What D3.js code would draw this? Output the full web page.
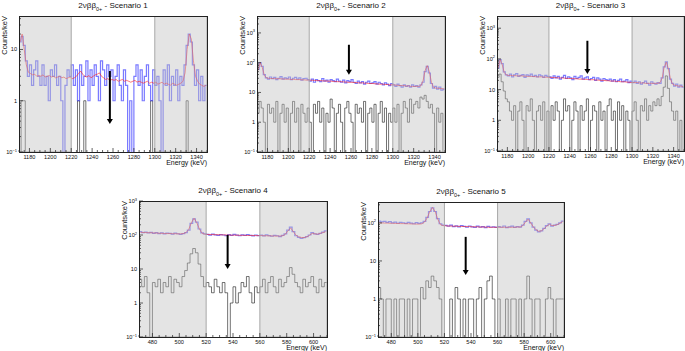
<!DOCTYPE html>
<html>
<head>
<meta charset="utf-8">
<script src="https://cdn.jsdelivr.net/npm/d3@7"></script>
<style>
  body { margin: 0; background: #fff; }
  svg { font-family: "Liberation Sans", Arial, sans-serif; }
</style>
</head>
<body>
<div id="chart"></div>
<script>

//Energy ranges, bin width and sidebands (keV)
var binWidth = 2;
var rangeHigh = [1170, 1350];
var rangeLow = [470, 610];
var sideHigh = [[1170, 1220], [1300, 1350]];
var sideLow = [[470, 520], [560, 610]];

//Axis tick labels
var xTicksHigh = [1180, 1200, 1220, 1240, 1260, 1280, 1300, 1320, 1340];
var xTicksLow = [480, 500, 520, 540, 560, 580, 600];
var decades = [0.1, 1, 10, 100, 1000];
var exponents = ["\u22121", "", "", "2", "3"];

//Per scenario: title, top of y axis, arrow energy and span
var scenarioNames = ["Scenario 1", "Scenario 2", "Scenario 3", "Scenario 4", "Scenario 5"];
var yMax = [45, 3700, 2500, 1000, 355];
var arrowE = [1257, 1258, 1257, 536, 536];
var arrowFrom = [3.8, 400, 390, 100, 43];
var arrowTo = [0.35, 39, 32, 10, 4.3];

//Scenario 1 (counts/keV, 2 keV bins from 1170)
var blue1 = [14,18,12,6,3,5,2,4,6,3, 2,5,2,3,1,4,3,5,2,3, 1,0,2,4,3,5,2,4,1,5,
             2,3,6,1,4,2,5,3,1,6, 4,2,5,3,4,1,3,5,2,1, 4,2,0,1,0,3,5,2,4,1,
             3,5,2,1,4,2,3,1,0,4, 2,5,1,3,2,4,1,3,2,5, 12,20,14,5,2,4,1,3,1,2];
var red1 = [14,20,10,5,3.6,3.4,3.2,3.3,3.0,3.1, 3.0,3.2,2.9,3.0,3.1,2.9,3.0,2.8,2.9,3.0,
            2.8,2.9,2.7,2.8,2.9,2.7,2.8,3.0,3.4,3.8, 3.3,3.0,2.9,3.1,2.8,3.0,3.2,3.3,3.5,3.0,
            2.8,2.6,2.7,2.5,2.6,2.5,2.6,2.4,2.5,2.6, 2.4,2.5,2.4,2.3,2.4,2.5,2.3,2.4,2.3,2.2,
            2.3,2.4,2.2,2.3,2.2,2.3,2.1,2.2,2.3,2.1, 2.2,2.1,2.0,2.2,2.1,2.0,2.1,2.2,2.4,3.5,
            10,20,16,6,3.0,2.4,2.1,2.0,1.9,2.0];
var gray1 = [0,1,1,0,0,0,0,0,0,0, 0,0,0,0,0,0,0,0,0,0, 0,0,0,0,0,0,0,0,1,0,
             0,1,0,0,0,0,0,0,0,0, 0,0,0,0,0,0,0,0,0,0, 0,0,0,0,0,0,0,0,0,0,
             0,0,0,1,0,0,0,0,0,0, 0,0,0,0,0,0,0,0,0,0, 1,0,0,0,0,0,0,0,0,0];

//Scenario 2
var blue2 = [60,100,75,40, 31,28,33,29,32,27,30,34,28,31,29,33,27,30,32,28,31,26,29,30,27,
             24,28,22,27,25,23,29,24,26,22, 27,25,23,28,24,22,26,21,25,23,
             27,22,20,24,21,23,19,22,24,20, 21,23,19,22,20,18,21,19,17,20,
             18,16,19,17,15,18,16,17,15,18, 16,17,15,18,22,50,75,45,20,14, 16,13,15,12,13];
var red2 = [55,100,70,38,31, 30,29.5,29.5,29,29,29,28.5,28.5,28,28,28,27.5,27.5,27,27,27,26.5,26.5,26,26,
            26,25.5,25.5,25,25,25,24.5,24.5,24,24, 24,23.5,23.5,23,23,23,22.5,22.5,22,22,
            22,21.5,21.5,21,21,21,20.5,20.5,20,20, 20,19.5,19.5,19,19,19,18.5,18.5,18,18,
            18,17.5,17.5,17,17,17,16.5,16.5,16,16, 16,16,16,17,25,55,80,50,22,15, 14,14,13.5,13.5,13];
var gray2 = [2,5,3,1,0,4,2,3,1,5, 0,2,4,1,3,0,2,5,1,3, 0,4,2,1,3,
             1,0,4,2,5,1,3,0,2,1, 6,3,0,2,4,1,0,3,5,2, 1,0,4,2,3,1,5,0,2,3, 1,4,0,2,5,1,3,0,2,1,
             3,1,4,0,2,5,3,1,6,2, 4,5,3,7,6,8,5,3,4,2, 0,3,1,2,0];

//Scenario 3
var blue3 = [50,95,70,38,30, 28,32,26,30,33,27,29,31,25,30,28,32,27,29,26,30,28,25,29,27,
             26,23,28,24,27,22,25,29,23,26, 24,21,27,23,25,28,22,24,26,21,
             23,25,20,24,22,19,23,21,20,22, 19,21,18,20,22,18,19,21,17,19,
             17,19,16,18,15,17,19,16,14,18, 16,15,17,16,24,55,80,48,22,16, 13,15,12,14,12];
var red3 = [50,95,65,36,30, 29,29,28.5,28.5,28,28,28,27.5,27.5,27,27,27,26.5,26.5,26,26,26,25.5,25.5,25,
            25,25,24.5,24.5,24,24,24,23.5,23.5,23, 23,23,22.5,22.5,22,22,22,21.5,21.5,21,
            21,21,20.5,20.5,20,20,20,19.5,19.5,19, 19,19,18.5,18.5,18,18,18,17.5,17.5,17,
            17,17,17,16.5,16.5,16.5,16,16,16,16, 16,16,16,17,24,55,78,48,22,15, 14,13.5,13,13,12.5];
var gray3 = [25,32,18,9,5,4,2,1,3,0, 2,4,1,0,3,2,5,1,0,2, 3,1,4,0,2,
             0,3,1,4,2,0,1,5,2,3, 0,1,4,2,0,3,1,2,5,0, 1,3,2,0,4,1,2,0,3,5, 1,2,0,4,1,3,0,2,1,0,
             2,4,1,0,3,2,5,1,3,2, 4,3,5,3,6,12,28,11,4,2, 1,2,0,1,0];

//Scenario 4 (2 keV bins from 470)
var blue4 = [125,118,122,115,120,112,118,110,116,108, 114,111,106,113,109,104,110,118,140,220, 300,240,150,115,108,
             104,99,106,101,97,103,100,96,102,98, 104,99,95,101,97,103,98,94,100,96,
             99,94,101,96,92,98,95,90,97,108, 140,170,125,95,85, 80,84,90,100,118, 108,104,112,122,132];
var red4 = [120,119,118,117,116,115,114,113,112,111, 110,110,109,109,108,108,110,118,145,230, 310,230,150,112,106,
            104,103,103,102,102,101,101,100,100,99, 99,99,98,98,98,97,97,97,96,96,
            96,95,95,94,94,93,93,93,95,105, 135,160,125,98,88, 84,84,88,98,112, 108,106,112,118,125];
var gray4 = [5,3,6,2,0,4,3,5,2,4, 3,6,2,5,4,3,6,9,15,28, 40,30,14,6,3,
             4,3,2,5,3,2,4,2,0,1, 3,1,2,4,3,6,2,1,3,2,
             3,5,2,4,6,3,2,5,3,4, 6,11,7,4,3, 2,5,3,4,6, 3,2,5,3,4];

//Scenario 5
var blue5 = [112,106,110,103,108,100,105,98,103,101, 97,104,99,95,102,97,100,110,140,200, 250,200,130,95,88,
             86,82,88,80,84,79,85,81,77,83, 79,76,82,78,80,75,81,77,79,76,
             80,77,83,75,79,82,76,80,78,88, 110,128,100,78,65, 58,62,72,85,94, 82,88,92,100,112];
var red5 = [100,100,99,99,98,98,97,97,96,96, 95,95,94,94,93,93,95,105,135,200, 255,200,125,90,85,
            84,83,83,82,82,81,81,80,80,80, 79,79,79,78,78,78,77,77,77,77,
            77,77,77,77,77,77,77,78,78,85, 105,125,100,78,66, 60,62,70,82,92, 85,86,90,98,108];
var gray5 = [2,1,0,1,1,0,1,0,1,1, 0,1,0,1,1,0,2,1,3,2, 4,3,2,1,0,
             0,0,1,0,2,1,0,1,0,1, 1,0,1,2,0,1,3,4,1,0,
             1,0,0,1,0,1,1,0,1,0, 1,4,1,0,1, 1,0,0,1,2, 1,0,1,1,1];

var panels = [
    {blue: blue1, red: red1, gray: gray1, range: rangeHigh, side: sideHigh, xTicks: xTicksHigh},
    {blue: blue2, red: red2, gray: gray2, range: rangeHigh, side: sideHigh, xTicks: xTicksHigh},
    {blue: blue3, red: red3, gray: gray3, range: rangeHigh, side: sideHigh, xTicks: xTicksHigh},
    {blue: blue4, red: red4, gray: gray4, range: rangeLow, side: sideLow, xTicks: xTicksLow},
    {blue: blue5, red: red5, gray: gray5, range: rangeLow, side: sideLow, xTicks: xTicksLow}
];

//Frame positions of the five pads
var w = 685;
var h = 351;
var frames = [
    {x0: 19,  x1: 207, y0: 16,  y1: 152},
    {x0: 257, x1: 445, y0: 16,  y1: 152},
    {x0: 497, x1: 684, y0: 16,  y1: 151},
    {x0: 139, x1: 327, y0: 201, y1: 337},
    {x0: 378, x1: 564, y0: 202, y1: 337}
];

var svg = d3.select("#chart")
            .append("svg")
            .attr("width", w)
            .attr("height", h);

panels.forEach(drawPanel);

function drawPanel(p, k) {
    var f = frames[k];

    var x = d3.scaleLinear()
                .domain(p.range)
                .range([f.x0, f.x1]);

    var y = d3.scaleLog()
                .domain([0.1, yMax[k]])
                .range([f.y1, f.y0]);

    var g = svg.append("g");

    g.append("clipPath")
        .attr("id", "clip" + k)
        .append("rect")
        .attr("x", f.x0)
        .attr("y", f.y0)
        .attr("width", f.x1 - f.x0)
        .attr("height", f.y1 - f.y0);

    var plot = g.append("g").attr("clip-path", "url(#clip" + k + ")");

    //Step outline, empty bins drop below the frame
    function steps(vals) {
        var pts = [];
        vals.forEach(function(v, i) {
            var e = p.range[0] + i * binWidth;
            var yy = v > 0 ? y(v) : f.y1 + 6;
            pts.push([x(e), yy], [x(e + binWidth), yy]);
        });
        return d3.line()(pts);
    }

    plot.append("path")
        .attr("d", steps(p.gray))
        .attr("fill", "none")
        .attr("stroke", "rgba(0,0,0,0.55)")
        .attr("stroke-width", 1);

    plot.append("path")
        .attr("d", steps(p.blue))
        .attr("fill", "none")
        .attr("stroke", "rgba(40,40,255,0.62)")
        .attr("stroke-width", 1.2);

    var fit = d3.line()
                .x(function(v, i) { return x(p.range[0] + (i + 0.5) * binWidth); })
                .y(function(v) { return y(v); });

    plot.append("path")
        .attr("d", fit(p.red))
        .attr("fill", "none")
        .attr("stroke", "rgba(255,30,30,0.6)")
        .attr("stroke-width", 1);

    //Sideband boxes, drawn over the histograms
    p.side.forEach(function(s) {
        plot.append("rect")
            .attr("x", x(s[0]))
            .attr("y", f.y0)
            .attr("width", x(s[1]) - x(s[0]))
            .attr("height", f.y1 - f.y0)
            .attr("fill", "rgba(190,190,190,0.42)")
            .attr("stroke", "#a8a8a8")
            .attr("stroke-width", 1);
    });

    //Arrow
    var ax = x(arrowE[k]);
    var yTip = y(arrowTo[k]);
    g.append("line")
        .attr("x1", ax)
        .attr("x2", ax)
        .attr("y1", y(arrowFrom[k]))
        .attr("y2", yTip - 4)
        .attr("stroke", "#000")
        .attr("stroke-width", 2);
    g.append("path")
        .attr("d", "M" + (ax - 3) + "," + (yTip - 5) + "L" + (ax + 3) + "," + (yTip - 5) + "L" + ax + "," + yTip + "Z")
        .attr("fill", "#000");

    //Frame
    g.append("rect")
        .attr("x", f.x0)
        .attr("y", f.y0)
        .attr("width", f.x1 - f.x0)
        .attr("height", f.y1 - f.y0)
        .attr("fill", "none")
        .attr("stroke", "#222")
        .attr("stroke-width", 1)
        .attr("shape-rendering", "crispEdges");

    //X ticks, inside the frame
    var minor = d3.range(p.range[0], p.range[1] + 1, 5);
    minor.forEach(function(e) {
        var major = p.xTicks.indexOf(e) >= 0;
        g.append("line")
            .attr("x1", x(e)).attr("x2", x(e))
            .attr("y1", f.y1).attr("y2", f.y1 - (major ? 4 : 2))
            .attr("stroke", "#222")
            .attr("stroke-width", 0.7);
    });

    g.selectAll(".xlab")
        .data(p.xTicks)
        .join("text")
        .attr("x", function(d) { return x(d); })
        .attr("y", f.y1 + 6.5)
        .attr("text-anchor", "middle")
        .attr("font-size", 5.6)
        .attr("fill", "#111")
        .text(function(d) { return d; });

    g.append("text")
        .attr("x", f.x1)
        .attr("y", f.y1 + 13)
        .attr("text-anchor", "end")
        .attr("font-size", 7)
        .attr("fill", "#111")
        .text("Energy (keV)");

    //Y ticks, log scale
    var dec = decades.filter(function(d) { return d <= yMax[k] * 1.01; });
    dec.forEach(function(d) {
        for (var m = 1; m <= 9; m++) {
            var v = d * m;
            if (v > yMax[k]) break;
            g.append("line")
                .attr("x1", f.x0).attr("x2", f.x0 + (m === 1 ? 4 : 2))
                .attr("y1", y(v)).attr("y2", y(v))
                .attr("stroke", "#222")
                .attr("stroke-width", 0.7);
        }
        var i = decades.indexOf(d);
        var t = g.append("text")
            .attr("x", f.x0 - 2)
            .attr("y", y(d) + 2)
            .attr("text-anchor", "end")
            .attr("font-size", 5.6)
            .attr("fill", "#111");
        t.append("tspan").text(d === 1 ? "1" : "10");
        if (exponents[i]) {
            t.append("tspan")
                .attr("dy", -2.5)
                .attr("font-size", 4)
                .text(exponents[i]);
        }
    });

    g.append("text")
        .attr("transform", "translate(" + (f.x0 - 12) + "," + f.y0 + ") rotate(-90)")
        .attr("text-anchor", "end")
        .attr("font-size", 7.5)
        .attr("fill", "#111")
        .text("Counts/keV");

    //Title
    var title = g.append("text")
        .attr("x", (f.x0 + f.x1) / 2)
        .attr("y", f.y0 - 8)
        .attr("text-anchor", "middle")
        .attr("font-size", 8)
        .attr("fill", "#111");
    title.append("tspan").text("2\u03bd\u03b2\u03b2");
    title.append("tspan").attr("dy", 2.5).attr("font-size", 5.5).text("0+");
    title.append("tspan").attr("dy", -2.5).text(" - " + scenarioNames[k]);
}

</script>
</body>
</html>
